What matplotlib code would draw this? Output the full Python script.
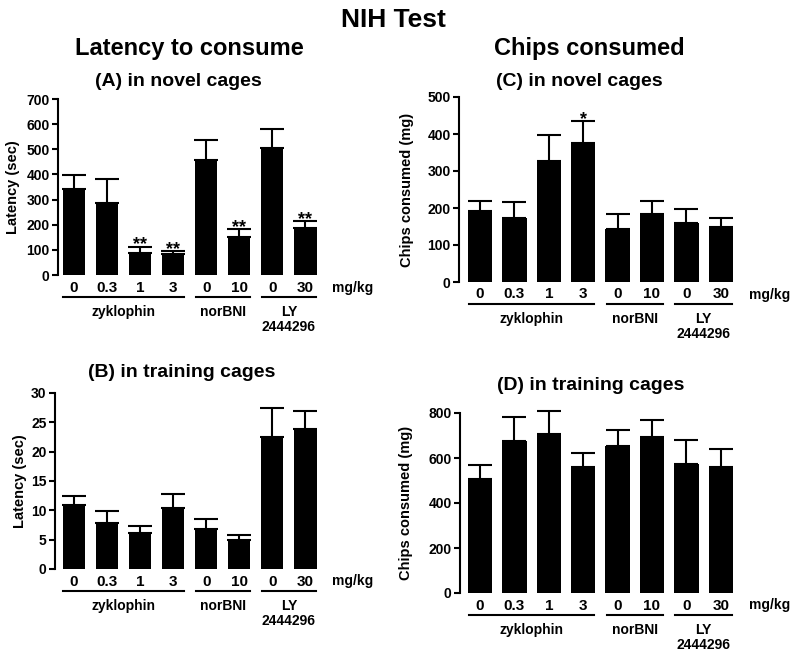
import matplotlib
matplotlib.use('Agg')
import matplotlib.pyplot as plt
from matplotlib.transforms import offset_copy
import numpy as np

plt.rcParams['font.family'] = 'Liberation Sans'
plt.rcParams['font.weight'] = 'bold'

# region Data
doses = ['0', '0.3', '1', '3', '0', '10', '0', '30']
group_names = ['zyklophin', 'norBNI', 'LY\n2444296']
group_span = [(0, 3), (4, 5), (6, 7)]

# (A) latency, novel cages
lat_novel = [341, 288, 86, 82, 458, 150, 505, 185]
lat_novel_sem = [55, 93, 27, 15, 80, 33, 75, 30]
lat_novel_sig = ['', '', '**', '**', '', '**', '', '**']

# (B) latency, training cages
lat_train = [10.9, 7.9, 6.2, 10.4, 6.9, 5.0, 22.5, 23.8]
lat_train_sem = [1.6, 2.0, 1.2, 2.4, 1.6, 0.8, 5.0, 3.1]

# (C) chips consumed, novel cages
chips_novel = [192, 174, 326, 377, 142, 183, 159, 148]
chips_novel_sem = [26, 42, 72, 58, 41, 35, 37, 25]
chips_novel_sig = ['', '', '', '*', '', '', '', '']

# (D) chips consumed, training cages
chips_train = [507, 674, 708, 560, 653, 692, 573, 560]
chips_train_sem = [63, 107, 99, 62, 73, 78, 108, 80]
# endregion

W, H = 800, 660
fig = plt.figure(figsize=(W / 100, H / 100), dpi=100)


def rect(l, r, b, t):
    # pixel box -> figure fraction
    return [l / W, 1 - b / H, (r - l) / W, (b - t) / H]


def panel(box, xlim, width, means, sem, ymax, ystep, ylabel, ylab_x, sig=None):
    ax = fig.add_axes(rect(*box))
    x = np.arange(len(means))
    ax.bar(x, means, width, color='black', zorder=2)
    ax.errorbar(x, means, yerr=[np.zeros(len(sem)), sem], fmt='none', ecolor='black',
                elinewidth=1.5, capsize=8.5, capthick=1.5, clip_on=False, zorder=1)
    ax.set_xlim(*xlim)
    ax.set_ylim(0, ymax)
    ax.set_yticks(np.arange(0, ymax + ystep / 2, ystep))
    ax.tick_params(axis='y', length=4, width=1.5, pad=2, labelsize=10)
    ax.set_xticks([])
    for s in ['top', 'right', 'bottom']:
        ax.spines[s].set_visible(False)
    ax.spines['left'].set_linewidth(1.5)

    # dose labels, group underlines and names below the bars
    xt = ax.get_xaxis_transform()
    for xi, d in zip(x, doses):
        ax.text(xi, 0, d, transform=offset_copy(xt, fig, y=-16.5, units='dots'),
                ha='center', va='baseline', fontsize=11)
    ax.text(8.43, 0, 'mg/kg', transform=offset_copy(xt, fig, y=-16.5, units='dots'),
            ha='center', va='baseline', fontsize=10)
    for name, (g0, g1) in zip(group_names, group_span):
        ax.plot([g0 - 0.32, g1 + 0.32], [0, 0], color='black', lw=1.5, clip_on=False,
                transform=offset_copy(xt, fig, y=-22, units='dots'))
        for k, line in enumerate(name.split('\n')):
            ax.text((g0 + g1) / 2, 0, line,
                    transform=offset_copy(xt, fig, y=-41 - 15 * k, units='dots'),
                    ha='center', va='baseline', fontsize=10)

    if sig is not None:
        for xi, m, e, s in zip(x, means, sem, sig):
            if s:
                ax.annotate(s, (xi, m + e), xytext=(0, -3), textcoords='offset pixels',
                            ha='center', va='baseline', fontsize=13, annotation_clip=False)

    yc = (box[2] + box[3]) / 2
    fig.text(ylab_x / W, 1 - yc / H, ylabel, rotation=90, ha='center', va='center',
             fontsize=10.5)
    return ax


panel((58, 322, 275, 99), (-0.48, 7.5), 0.67, lat_novel, lat_novel_sem, 700, 100,
      'Latency (sec)', 13, lat_novel_sig)
panel((55, 322, 569, 393), (-0.575, 7.5), 0.67, lat_train, lat_train_sem, 30, 5,
      'Latency (sec)', 20)
panel((459, 738, 282, 97), (-0.61, 7.5), 0.71, chips_novel, chips_novel_sem, 500, 100,
      'Chips consumed (mg)', 407, chips_novel_sig)
panel((460, 738, 593, 413), (-0.58, 7.5), 0.71, chips_train, chips_train_sem, 800, 200,
      'Chips consumed (mg)', 406)

# titles
fig.text(393 / W, 1 - 27 / H, 'NIH Test', ha='center', va='baseline', fontsize=19)
fig.text(189 / W, 1 - 55 / H, 'Latency to consume', ha='center', va='baseline', fontsize=17)
fig.text(589 / W, 1 - 55 / H, 'Chips consumed', ha='center', va='baseline', fontsize=17)
fig.text(178 / W, 1 - 86 / H, '(A) in novel cages', ha='center', va='baseline', fontsize=14)
fig.text(579 / W, 1 - 86 / H, '(C) in novel cages', ha='center', va='baseline', fontsize=14)
fig.text(182 / W, 1 - 377 / H, '(B) in training cages', ha='center', va='baseline', fontsize=14)
fig.text(591 / W, 1 - 390 / H, '(D) in training cages', ha='center', va='baseline', fontsize=14)

fig.savefig('out.png', dpi=100, facecolor='white')
